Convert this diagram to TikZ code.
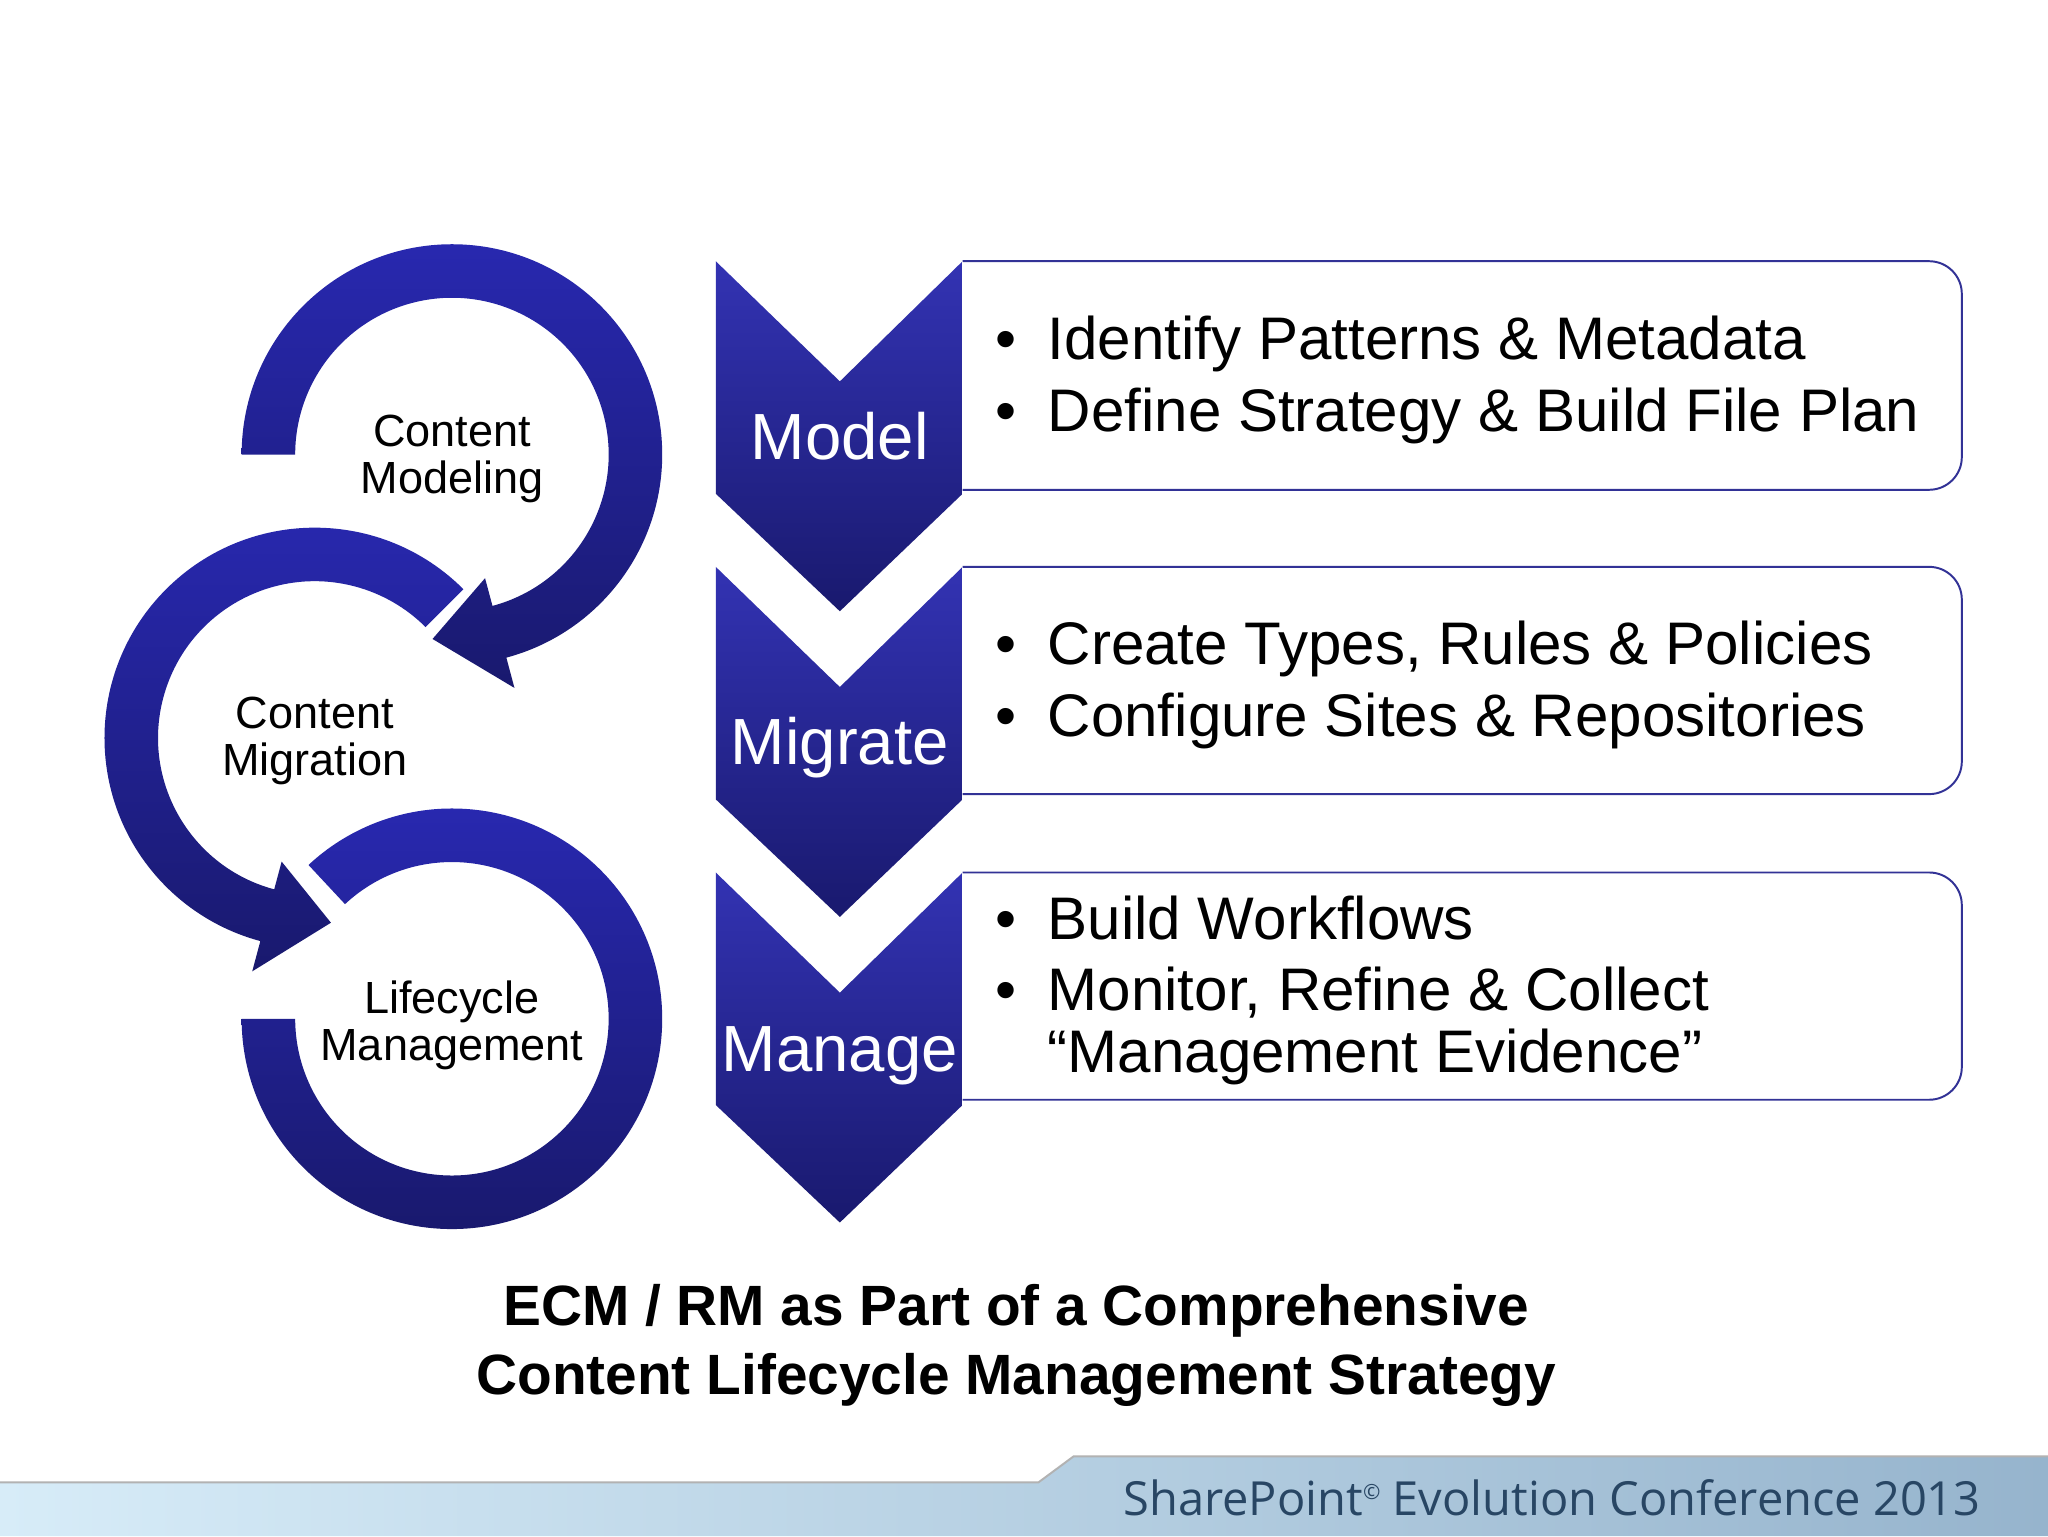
\documentclass[tikz,border=0pt]{standalone}
\usepackage{fontspec}
\setmainfont{Liberation Sans}
\newfontfamily\footfont{Open Sans}
\definecolor{ringtop}{RGB}{40,40,175}
\definecolor{ringbot}{RGB}{25,25,110}
\definecolor{boxline}{RGB}{50,50,150}
\definecolor{foottxt}{RGB}{40,70,100}
\definecolor{footL}{RGB}{215,236,248}
\definecolor{footR}{RGB}{150,180,205}
\tikzset{
  ring/.style={top color=ringtop,bottom color=ringbot,draw=none},
  chev/.style={top color=ringtop!95!white,bottom color=ringbot,draw=none},
  boxst/.style={draw=boxline,line width=1.5pt,fill=white,rounded corners=25},
  chevlbl/.style={text=white,anchor=base,font=\fontsize{50}{56}\selectfont,inner sep=0},
  bul/.style={anchor=base west,font=\fontsize{46}{50}\selectfont,inner sep=0},
  ringlbl/.style={anchor=base,font=\fontsize{34.5}{38}\selectfont,inner sep=0},
  ttl/.style={anchor=base,font=\bfseries\fontsize{43.5}{48}\selectfont,inner sep=0}
}
\begin{document}
\begin{tikzpicture}[x=1pt,y=1pt]
\useasboundingbox (0,0) rectangle (1568,1176);
\fill[white] (0,0) rectangle (1568,1176);
% footer band
\shade[left color=footL,right color=footR] (0,0) -- (0,41) -- (795,41) -- (822,61) -- (1568,61) -- (1568,0) -- cycle;
\draw[gray!60,line width=1.5pt] (0,41) -- (795,41) -- (822,61) -- (1568,61);
\node[anchor=base west,inner sep=0,text=foottxt,font=\footfont\fontsize{36}{40}\selectfont] (foot) at (860,16) {SharePoint\raisebox{12pt}{\fontsize{16}{16}\selectfont\copyright} Evolution Conference 2013};
% rings
\begin{scope}[shift={(346,396)}]
\shade[ring] (180:161) arc[start angle=180,end angle=493,radius=161] -- (493:120) arc[start angle=493,end angle=180,radius=120] -- cycle;
\end{scope}
\begin{scope}[shift={(241,611)}]
\shade[ring] (45:161) arc[start angle=45,end angle=255,radius=161] -- (255:185) -- (275:142) -- (255:98) -- (255:120) arc[start angle=255,end angle=45,radius=120] -- cycle;
\end{scope}
\begin{scope}[shift={(346,828)}]
\shade[ring] (180:161) arc[start angle=180,end angle=-75,radius=161] -- (-75:185) -- (-96:142) -- (-75:98) -- (-75:120) arc[start angle=-75,end angle=180,radius=120] -- cycle;
\end{scope}
\node[ringlbl] (cm1) at (346,834) {Content};
\node[ringlbl] (cm2) at (346,798) {Modeling};
\node[ringlbl] (mg1) at (241,618) {Content};
\node[ringlbl] (mg2) at (241,582) {Migration};
\node[ringlbl] (lc1) at (346,400) {Lifecycle};
\node[ringlbl] (lc2) at (346,364) {Management};
% boxes
\draw[boxst] (737,976) -- (1502,976) -- (1502,801) -- (737,801);
\draw[boxst] (737,742) -- (1502,742) -- (1502,568) -- (737,568);
\draw[boxst] (737,508) -- (1502,508) -- (1502,334) -- (737,334);
% chevrons
\foreach \d in {0,234,468}{
  \shade[chev] (548,976-\d) -- (643,884-\d) -- (737,976-\d) -- (737,798-\d) -- (643,708-\d) -- (548,798-\d) -- cycle;
}
\node[chevlbl] (model) at (643,824) {Model};
\node[chevlbl] (migrate) at (643,591) {Migrate};
\node[chevlbl] (manage) at (643,356) {Manage};
% bullets
\foreach \yy/\nm in {901/d1,846/d2,667/d3,612/d4,457/d5,402/d6}{
  \node[bul] (\nm) at (762,\yy) {•};
}
\node[bul] (b1) at (802,901) {Identify Patterns \& Metadata};
\node[bul] (b2) at (802,846) {Define Strategy \& Build File Plan};
\node[bul] (b3) at (802,667) {Create Types, Rules \& Policies};
\node[bul] (b4) at (802,612) {Configure Sites \& Repositories};
\node[bul] (b5) at (802,457) {Build Workflows};
\node[bul] (b6) at (802,402) {Monitor, Refine \& Collect};
\node[bul] (b7) at (802,355) {“Management Evidence”};
% title
\node[ttl] (t1) at (778,161) {ECM / RM as Part of a Comprehensive};
\node[ttl] (t2) at (778,108) {Content Lifecycle Management Strategy};
\end{tikzpicture}
\end{document}
